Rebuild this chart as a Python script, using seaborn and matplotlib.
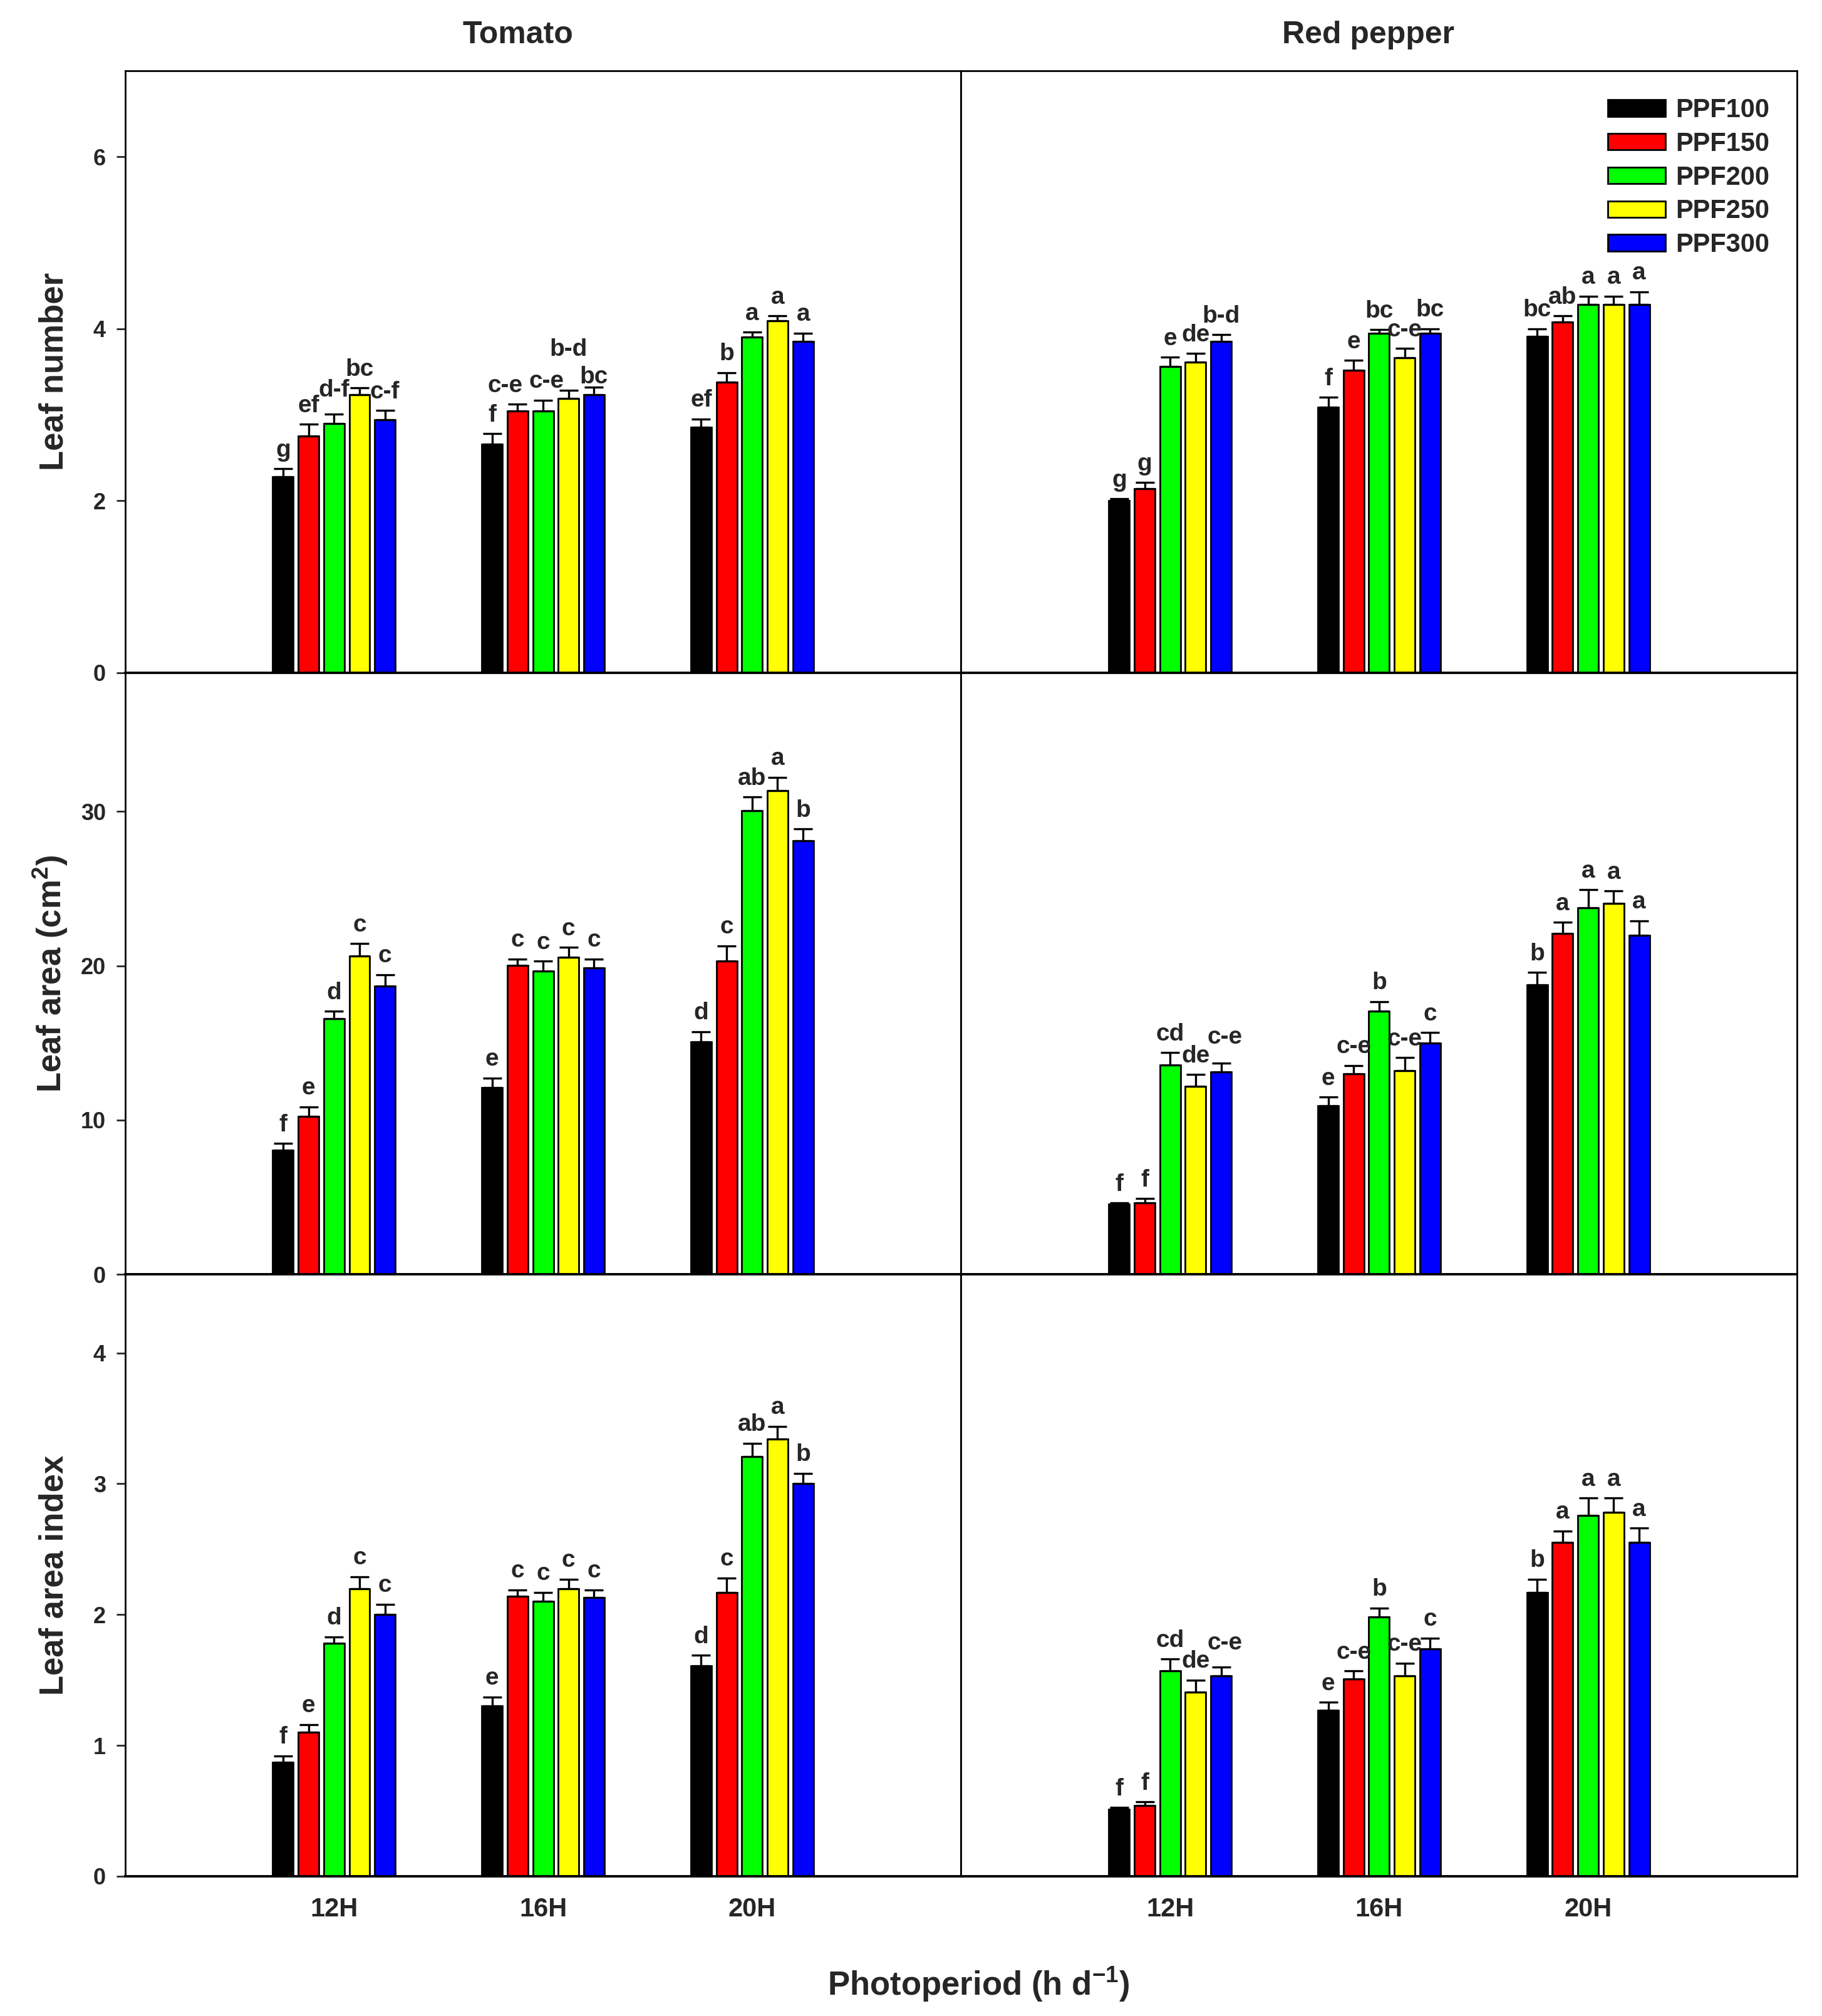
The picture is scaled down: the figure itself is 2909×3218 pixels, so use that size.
import numpy as np
import pandas as pd
import matplotlib
matplotlib.use("Agg")
import matplotlib.pyplot as plt
from matplotlib.container import BarContainer
import seaborn as sns

# ---------------- data ----------------
periods = ["12H", "16H", "20H"]
ppf_levels = ["PPF100", "PPF150", "PPF200", "PPF250", "PPF300"]
colors = ["#000000", "#FF0000", "#00FF00", "#FFFF00", "#0000FF"]

# Leaf number - tomato (rows = PPF level, cols = photoperiod)
tom_ln = [[2.28, 2.66, 2.85], [2.75, 3.04, 3.38], [2.90, 3.04, 3.90], [3.23, 3.19, 4.09], [2.94, 3.23, 3.85]]
tom_ln_se = [[0.09, 0.12, 0.10], [0.14, 0.08, 0.11], [0.11, 0.13, 0.06], [0.08, 0.09, 0.06], [0.11, 0.09, 0.10]]
tom_ln_let = [["g", "f", "ef"], ["ef", "c-e", "b"], ["d-f", "c-e", "a"], ["bc", "b-d", "a"], ["c-f", "bc", "a"]]

# Leaf number - red pepper
pep_ln = [[2.00, 3.09, 3.91], [2.14, 3.52, 4.08], [3.56, 3.95, 4.28], [3.61, 3.66, 4.28], [3.85, 3.95, 4.28]]
pep_ln_se = [[0.02, 0.11, 0.09], [0.07, 0.11, 0.07], [0.11, 0.04, 0.10], [0.10, 0.11, 0.10], [0.08, 0.05, 0.15]]
pep_ln_let = [["g", "f", "bc"], ["g", "e", "ab"], ["e", "bc", "a"], ["de", "c-e", "a"], ["b-d", "bc", "a"]]

# Leaf area - tomato
tom_la = [[8.07, 12.12, 15.06], [10.25, 20.02, 20.30], [16.56, 19.65, 30.04], [20.63, 20.54, 31.35], [18.69, 19.88, 28.12]]
tom_la_se = [[0.42, 0.61, 0.68], [0.61, 0.42, 1.00], [0.49, 0.65, 0.89], [0.80, 0.65, 0.87], [0.73, 0.56, 0.75]]
tom_la_let = [["f", "e", "d"], ["e", "c", "c"], ["d", "c", "ab"], ["c", "c", "a"], ["c", "c", "b"]]

# Leaf area - red pepper
pep_la = [[4.54, 10.95, 18.78], [4.66, 13.00, 22.10], [13.57, 17.06, 23.78], [12.18, 13.20, 24.03], [13.13, 14.99, 21.97]]
pep_la_se = [[0.10, 0.55, 0.79], [0.25, 0.54, 0.73], [0.80, 0.63, 1.14], [0.77, 0.84, 0.82], [0.58, 0.68, 0.95]]
pep_la_let = [["f", "e", "b"], ["f", "c-e", "a"], ["cd", "b", "a"], ["de", "c-e", "a"], ["c-e", "c", "a"]]

# Leaf area index - tomato
tom_lai = [[0.87, 1.30, 1.61], [1.10, 2.14, 2.17], [1.78, 2.10, 3.21], [2.20, 2.20, 3.34], [2.00, 2.13, 3.00]]
tom_lai_se = [[0.05, 0.07, 0.08], [0.06, 0.05, 0.11], [0.05, 0.07, 0.10], [0.09, 0.07, 0.10], [0.08, 0.06, 0.08]]
tom_lai_let = [["f", "e", "d"], ["e", "c", "c"], ["d", "c", "ab"], ["c", "c", "a"], ["c", "c", "b"]]

# Leaf area index - red pepper
pep_lai = [[0.51, 1.27, 2.17], [0.54, 1.51, 2.55], [1.57, 1.98, 2.76], [1.41, 1.53, 2.78], [1.53, 1.74, 2.55]]
pep_lai_se = [[0.015, 0.06, 0.10], [0.03, 0.06, 0.09], [0.09, 0.07, 0.13], [0.09, 0.10, 0.11], [0.07, 0.08, 0.11]]
pep_lai_let = [["f", "e", "b"], ["f", "c-e", "a"], ["cd", "b", "a"], ["de", "c-e", "a"], ["c-e", "c", "a"]]

crops = ["Tomato", "Red pepper"]
row_labels = ["Leaf number", r"Leaf area (cm$^{2}$)", "Leaf area index"]
row_ylims = [(0, 7), (0, 39), (0, 4.6)]
row_yticks = [[0, 2, 4, 6], [0, 10, 20, 30], [0, 1, 2, 3, 4]]
xlabel = r"Photoperiod (h d$^{-1}$)"

# ---------------- layout tweaks (label nudges in points: (row, col, ppf, period) -> (dx, dy)) ----------------
label_nudges = {
    (0, 0, 2, 0): (0, 3),
    (0, 0, 1, 1): (-7, 0),
    (0, 0, 2, 1): (2, 0),
    (0, 0, 3, 1): (0, 13),
    (0, 0, 4, 1): (0, -5),
    (1, 1, 4, 0): (2, 4),
    (2, 1, 4, 0): (2, 3),
}

# ---------------- style ----------------
sns.set_theme(style="white")
plt.rcParams["font.family"] = ["Liberation Sans", "DejaVu Sans"]
plt.rcParams["font.weight"] = "bold"
plt.rcParams["mathtext.fontset"] = "custom"
plt.rcParams["mathtext.rm"] = "Liberation Sans:bold"
plt.rcParams["mathtext.bf"] = "Liberation Sans:bold"
plt.rcParams["mathtext.it"] = "Liberation Sans:bold"
plt.rcParams["mathtext.default"] = "bf"

fig, axes = plt.subplots(3, 2, figsize=(2909 / 200, 3218 / 200), dpi=200)
fig.subplots_adjust(left=0.0686, right=0.9864, top=0.9649, bottom=0.0693, hspace=0, wspace=0)

panels = [
    [(tom_ln, tom_ln_se, tom_ln_let), (pep_ln, pep_ln_se, pep_ln_let)],
    [(tom_la, tom_la_se, tom_la_let), (pep_la, pep_la_se, pep_la_let)],
    [(tom_lai, tom_lai_se, tom_lai_let), (pep_lai, pep_lai_se, pep_lai_let)],
]
title_x = [0.47, 0.487]

for r in range(3):
    for c in range(2):
        ax = axes[r, c]
        vals, ses, lets = panels[r][c]
        rows = []
        for i, p in enumerate(ppf_levels):
            for j, per in enumerate(periods):
                rows.append({"Photoperiod": per, "PPF": p, "value": vals[i][j],
                             "se": ses[i][j], "letter": lets[i][j]})
        df = pd.DataFrame(rows)
        sns.barplot(data=df, x="Photoperiod", y="value", hue="PPF", order=periods,
                    hue_order=ppf_levels, palette=colors, saturation=1, width=0.61,
                    gap=0.19, edgecolor="black", linewidth=1.0, errorbar=None,
                    legend=False, ax=ax)
        bar_conts = [ct for ct in ax.containers if isinstance(ct, BarContainer)]
        for i, cont in enumerate(bar_conts):
            xs = [b.get_x() + b.get_width() / 2 for b in cont]
            ys = [b.get_height() for b in cont]
            sub = df[df["PPF"] == ppf_levels[i]].set_index("Photoperiod").loc[periods]
            errs = sub["se"].to_numpy()
            ax.errorbar(xs, ys, yerr=[np.zeros(len(errs)), errs], fmt="none",
                        ecolor="black", elinewidth=1.2, capsize=5.5, capthick=1.2, zorder=3)
            for j, (x, y, e, t) in enumerate(zip(xs, ys, errs, sub["letter"])):
                dx, dy = label_nudges.get((r, c, i, j), (0, 0))
                ax.annotate(t, (x, y + e), xytext=(dx, 7 + dy), textcoords="offset points",
                            ha="center", va="baseline", fontsize=14, fontweight="bold")
        ax.set_xlim(-1, 3)
        ax.set_ylim(*row_ylims[r])
        ax.set_xlabel("")
        ax.set_ylabel("")
        for s in ax.spines.values():
            s.set_visible(True)
            s.set_color("black")
            s.set_linewidth(1.0)
        ax.spines["bottom"].set_linewidth(1.4)
        ax.tick_params(axis="x", length=0, pad=12, labelsize=15)
        if r < 2:
            ax.tick_params(axis="x", labelbottom=False)
        if c == 0:
            ax.set_yticks(row_yticks[r])
            ax.tick_params(axis="y", direction="out", length=5, width=1.0, pad=6,
                           labelsize=13, left=True)
            ax.set_ylabel(row_labels[r], fontsize=19, fontweight="bold")
            ax.yaxis.set_label_coords(-0.066, 0.5)
        else:
            ax.tick_params(axis="y", left=False, labelleft=False)
        for lab in ax.get_xticklabels() + ax.get_yticklabels():
            lab.set_fontweight("bold")
        if r == 0:
            ax.set_title(crops[c], fontsize=18, fontweight="bold", pad=16, x=title_x[c])

# legend in top-right panel
axl = axes[0, 1]
leg_handles = [ct for ct in axl.containers if isinstance(ct, BarContainer)]
leg = axl.legend(handles=leg_handles, labels=ppf_levels, loc="upper right",
                 bbox_to_anchor=(0.967, 0.955), frameon=False, fontsize=15,
                 handlelength=2.2, handleheight=0.6, labelspacing=0.33,
                 handletextpad=0.4, borderaxespad=0, borderpad=0)
for t in leg.get_texts():
    t.set_fontweight("bold")

fig.text(0.537, 0.0155, xlabel, ha="center", va="center", fontsize=19, fontweight="bold")

fig.savefig("out.png", dpi=200)
